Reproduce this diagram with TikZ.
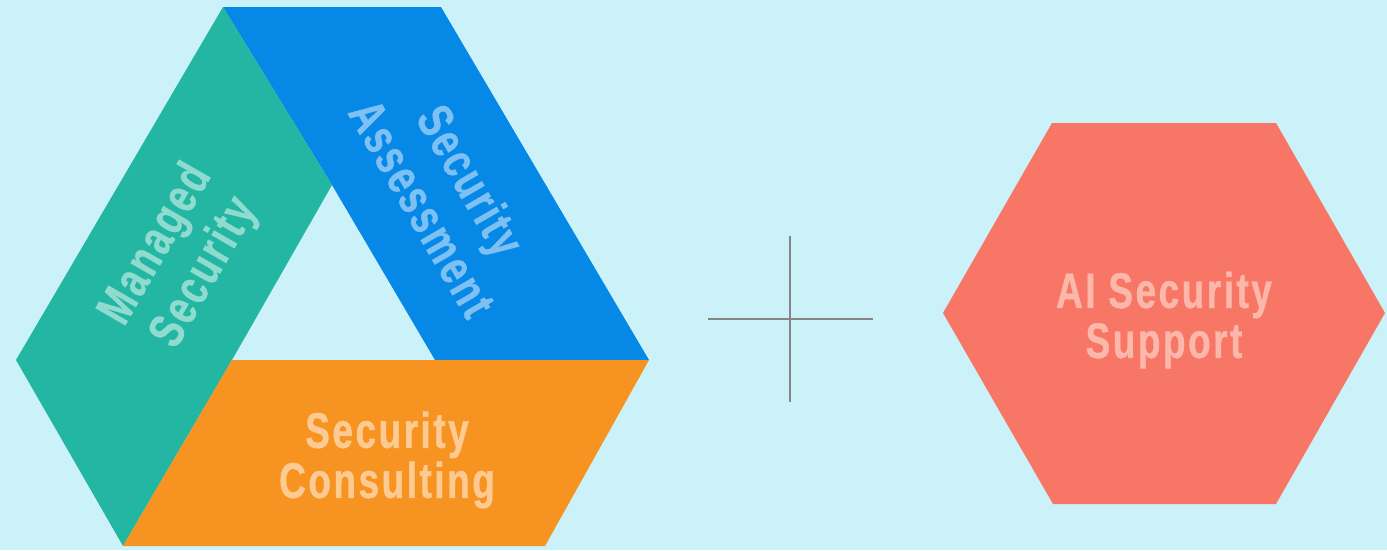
\documentclass[tikz,border=0pt]{standalone}
\usepackage{fontspec}
\newfontfamily\cond{Liberation Sans}[FakeStretch=0.74, LetterSpace=5, FakeBold=0.8]
\definecolor{bg}{HTML}{CCF2F9}
\definecolor{tealc}{HTML}{22B6A3}
\definecolor{bluec}{HTML}{0588E6}
\definecolor{orangec}{HTML}{F79421}
\definecolor{salmonc}{HTML}{F87665}
\definecolor{tealt}{HTML}{8FDBCF}
\definecolor{bluet}{HTML}{7DC0F4}
\definecolor{oranget}{HTML}{FDCA92}
\definecolor{salmont}{HTML}{FBB7AA}
\definecolor{crossc}{HTML}{858585}
\begin{document}
\begin{tikzpicture}[x=1pt,y=-1pt,
  lbl/.style={font=\cond\bfseries\fontsize{50}{50}\selectfont, align=center, inner sep=0pt},
  rlbl/.style={lbl, font=\cond\bfseries\fontsize{50}{56}\selectfont},
  crossline/.style={draw=crossc, line width=2pt}]
\fill[bg] (0,0) rectangle (1387,550);
\useasboundingbox (0,0) rectangle (1387,550);
% triangle frame
\coordinate (T1) at (223,7);
\coordinate (T2) at (441,7);
\coordinate (R) at (649,360);
\coordinate (BR) at (545,546);
\coordinate (BL) at (123,546);
\coordinate (L) at (16,360);
\coordinate (I1) at (332,185);
\coordinate (I2) at (232,360);
\coordinate (I3) at (435,360);
\fill[bluec] (T1) -- (T2) -- (R) -- (I3) -- (I1) -- cycle;
\fill[tealc] (T1) -- (I1) -- (I2) -- (BL) -- (L) -- cycle;
\fill[orangec] (I2) -- (R) -- (BR) -- (BL) -- cycle;
\node[rlbl, text=tealt, rotate=60] (ms) at (181,259) {Managed\\Security};
\node[rlbl, text=bluet, rotate=-60] (sa) at (447,194) {Security\\Assessment};
\node[lbl, text=oranget] (sc) at (387,460) {Security\\Consulting};
% plus
\coordinate (vt) at (790,236);
\coordinate (vb) at (790,402);
\coordinate (hl) at (708,319);
\coordinate (hr) at (873,319);
\draw[crossline] (vt) -- (vb);
\draw[crossline] (hl) -- (hr);
% hexagon
\fill[salmonc] (1052,123) -- (1276,123) -- (1385,313) -- (1276,504) -- (1053,504) -- (943,313) -- cycle;
\node[lbl, text=salmont] (ai) at (1164,320) {AI Security\\Support};
\end{tikzpicture}
\end{document}
